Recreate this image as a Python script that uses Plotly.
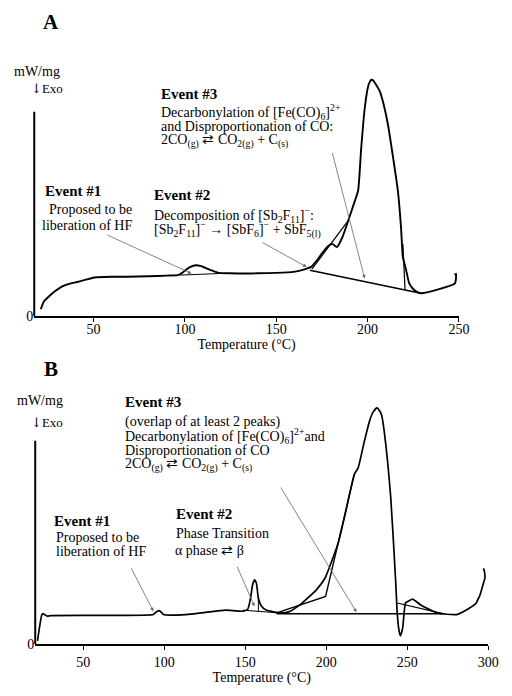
import plotly.graph_objects as go

# ---------------- Panel A data (temperature °C, relative heat flow) ----------------
a_temp = [21.1, 22.8, 25.5, 29.0, 32.6, 37.0, 41.6, 50.5, 60.0, 68.4, 80.0, 90.0, 96.1, 98.5,
          100.5, 103.0, 105.9, 108.5, 111.2, 114.5, 118.4, 125.0, 132.7, 140.0, 150.0, 159.4,
          163.0, 166.6, 169.1, 172.8, 176.0, 178.7, 180.9, 183.2, 186.2, 189.4, 192.7, 194.8,
          196.5, 198.4, 200.2, 201.0, 202.0, 203.1, 204.4, 206.6, 208.7, 211.2, 214.0, 216.6,
          218.3, 219.3, 221.1, 222.8, 225.5, 229.1, 247.8, 248.4, 247.6]
a_signal = [7.3, 15.0, 20.0, 25.5, 30.0, 33.0, 35.0, 39.3, 40.0, 40.0, 40.5, 41.2, 41.7, 44.0,
            47.0, 50.0, 51.7, 51.0, 49.0, 46.5, 44.0, 43.5, 43.3, 43.5, 44.0, 45.0,
            46.3, 48.3, 50.0, 58.0, 66.0, 71.7, 73.0, 70.0, 80.0, 96.7, 115.0, 127.0,
            170.0, 210.0, 232.0, 236.5, 239.3, 238.5, 235.0, 228.0, 215.0, 193.3, 160.0, 126.7,
            90.0, 60.0, 46.7, 33.3, 26.7, 23.3, 33.3, 43.0, 42.0]
a_base_temp = [168.4, 229.1]
a_base_signal = [46.7, 23.3]
a_drop_temp = [219.3, 220.5]
a_drop_signal = [73.3, 27.0]
a_chord_temp = [169.6, 189.4]
a_chord_signal = [48.0, 96.7]
a_bump_temp = [97.3, 118.7]
a_bump_signal = [41.7, 43.3]
a_ticks = [50, 100, 150, 200, 250]

# ---------------- Panel B data ----------------
b_temp = [21.8, 24.5, 25.2, 26.4, 27.8, 30.1, 59.1, 93.3, 94.7, 96.9, 98.3, 99.5, 113.4, 125.5,
          137.6, 148.6, 151.6, 153.3, 154.5, 155.7, 156.9, 158.1, 159.9, 162.9, 170.8, 176.8,
          183.9, 193.9, 199.2, 203.6, 207.6, 211.7, 217.3, 219.7, 223.3, 226.9, 229.0, 231.3,
          233.0, 234.2, 235.8, 239.8, 242.8, 243.8, 244.8, 245.8, 247.2, 248.9, 251.1, 253.3,
          258.3, 268.4, 280.5, 288.5, 292.6, 293.4, 294.6, 295.8, 297.0, 297.9, 297.6, 297.0]
b_signal = [3.4, 30.0, 31.0, 29.7, 28.4, 29.0, 29.2, 30.0, 32.2, 34.0, 32.2, 30.0, 30.0, 32.2,
            34.4, 33.4, 35.7, 46.7, 59.7, 65.0, 61.7, 46.7, 38.7, 34.7, 31.7, 32.7,
            40.0, 55.0, 66.7, 85.0, 103.7, 131.7, 171.7, 178.4, 203.7, 226.7, 235.0, 239.0,
            236.0, 231.7, 215.0, 148.4, 65.0, 31.7, 15.0, 8.4, 16.7, 41.7, 44.0, 45.7,
            39.7, 31.7, 30.0, 36.7, 41.7, 44.7, 48.4, 54.7, 61.7, 66.7, 73.7, 76.7]
b_piece_temp = [169.4, 199.6, 217.3]
b_piece_signal = [31.7, 48.4, 171.7]
b_flat_temp = [169.4, 272.0]
b_flat_signal = [30.8, 30.8]
b_right_temp = [243.8, 272.0]
b_right_signal = [41.7, 31.0]
b_ev2_temp = [148.6, 170.8]
b_ev2_signal = [34.4, 31.7]
b_ev2drop_temp = [158.1, 158.1]
b_ev2drop_signal = [46.7, 33.2]
b_ticks = [50, 100, 150, 200, 250, 300]

FONT = "Liberation Serif"
W, H = 512, 696


def P(px, py):
    return px / W, 1 - py / H


fig = go.Figure()


def line(x, y, xa, ya, width=1.8, smooth=False):
    ln = dict(color="black", width=width)
    if smooth:
        ln.update(shape="spline", smoothing=0.5)
    fig.add_trace(go.Scatter(x=x, y=y, mode="lines", xaxis=xa, yaxis=ya, line=ln,
                             hoverinfo="skip", showlegend=False))


line(a_temp, a_signal, "x", "y", 1.9, smooth=True)
line(a_base_temp, a_base_signal, "x", "y", 1.6)
line(a_drop_temp, a_drop_signal, "x", "y", 1.2)
line(a_chord_temp, a_chord_signal, "x", "y", 1.2)
line(a_bump_temp, a_bump_signal, "x", "y", 1.0)

line(b_temp, b_signal, "x2", "y2", 1.7, smooth=True)
line(b_piece_temp, b_piece_signal, "x2", "y2", 1.4)
line(b_flat_temp, b_flat_signal, "x2", "y2", 1.3)
line(b_right_temp, b_right_signal, "x2", "y2", 1.2)
line(b_ev2_temp, b_ev2_signal, "x2", "y2", 1.0)
line(b_ev2drop_temp, b_ev2drop_signal, "x2", "y2", 1.0)

axis_common = dict(showgrid=False, zeroline=False, showline=True, linewidth=2, linecolor="black",
                   ticks="outside", ticklen=4, tickwidth=1.2, tickcolor="black",
                   tickfont=dict(family=FONT, size=14, color="black"))

fig.update_layout(
    width=W, height=H, margin=dict(l=0, r=0, t=0, b=0),
    paper_bgcolor="white", plot_bgcolor="white",
    xaxis=dict(domain=[35 / W, 469 / W], range=[17.5, 250], tickvals=a_ticks, anchor="y",
               ticklabelstandoff=-5,
               title=dict(text="Temperature (°C)", font=dict(family=FONT, size=14, color="black"),
                          standoff=0), **axis_common),
    yaxis=dict(domain=[(H - 320) / H, (H - 60) / H], range=[0, 260], anchor="x",
               tickvals=[0], ticktext=["0"], showgrid=False, zeroline=False, showline=False,
               ticks="", tickfont=dict(family=FONT, size=14, color="black")),
    xaxis2=dict(domain=[36 / W, 499 / W], range=[20.4, 300], tickvals=b_ticks, anchor="y2",
                title=dict(text="Temperature (°C)", font=dict(family=FONT, size=14, color="black"),
                           standoff=2), **axis_common),
    yaxis2=dict(domain=[(H - 651.7) / H, (H - 400) / H], range=[0, 251.7], anchor="x2",
                tickvals=[0], ticktext=["0"], showgrid=False, zeroline=False, showline=False,
                ticks="", tickfont=dict(family=FONT, size=14, color="black")),
)

# y-axis lines (partial height as in the original)
fig.add_shape(type="line", xref="x domain", yref="y", x0=0, x1=0, y0=0, y1=207,
              line=dict(color="black", width=2))
fig.add_shape(type="line", xref="x2 domain", yref="y2", x0=0, x1=0, y0=0, y1=205.7,
              line=dict(color="black", width=2))


def text(px, py, s, size=14, bold=False, anchor="left"):
    x, y = P(px, py)
    if bold:
        s = "<b>" + s + "</b>"
    fig.add_annotation(x=x, y=y, xref="paper", yref="paper", text=s, showarrow=False,
                       xanchor=anchor, yanchor="middle",
                       font=dict(family=FONT, size=size, color="black"))


def arrow(xh, yh, xt, yt, xa, ya):
    fig.add_annotation(x=xh, y=yh, ax=xt, ay=yt, xref=xa, yref=ya, axref=xa, ayref=ya,
                       text="", showarrow=True, arrowhead=2, arrowsize=0.9, arrowwidth=0.8,
                       arrowcolor="#666666", standoff=0)


EXO = "<span style='font-family:DejaVu Serif'>↓</span>Exo"

# ---- Panel A text ----
text(52, 22, "A", size=21, bold=True, anchor="center")
text(12, 72, "mW/mg", size=14)
text(30, 90, EXO, size=13)
text(162, 95, "Event #3", size=15, bold=True)
text(162, 113, "Decarbonylation of [Fe(CO)<sub>6</sub>]<sup>2+</sup>", size=14)
text(162, 128, "and Disproportionation of CO:", size=14)
text(162, 143, "2CO<sub>(g)</sub> ⇄ CO<sub>2(g)</sub> + C<sub>(s)</sub>", size=14)
text(44, 193, "Event #1", size=15, bold=True)
text(48, 212, "Proposed to be", size=14)
text(41, 228, "liberation of HF", size=14)
text(155, 197, "Event #2", size=15, bold=True)
text(155, 217, "Decomposition of [Sb<sub>2</sub>F<sub>11</sub>]<sup>−</sup>:", size=14)
text(155, 232, "[Sb<sub>2</sub>F<sub>11</sub>]<sup>−</sup> → [SbF<sub>6</sub>]<sup>−</sup> + SbF<sub>5(l)</sub>", size=14)

arrow(103.6, 43.3, 56.6, 83.0, "x", "y")
arrow(166.6, 50.0, 141.6, 75.5, "x", "y")
arrow(198.4, 38.3, 180.5, 166.7, "x", "y")

# ---- Panel B text ----
text(52, 373, "B", size=21, bold=True, anchor="center")
text(15, 405, "mW/mg", size=14)
text(30, 427, EXO, size=13)
text(126, 407, "Event #3", size=15, bold=True)
text(126, 427, "(overlap of at least 2 peaks)", size=14)
text(126, 441, "Decarbonylation of [Fe(CO)<sub>6</sub>]<sup>2+</sup>and", size=14)
text(126, 456, "Disproportionation of CO", size=14)
text(126, 470, "2CO<sub>(g)</sub> ⇄ CO<sub>2(g)</sub> + C<sub>(s)</sub>", size=14)
text(53, 527, "Event #1", size=15, bold=True)
text(55, 544, "Proposed to be", size=14)
text(55, 558, "liberation of HF", size=14)
text(178, 520, "Event #2", size=15, bold=True)
text(178, 540, "Phase Transition", size=14)
text(177, 557, "α phase ⇄ β", size=14)

arrow(93.3, 33.4, 79.2, 78.4, "x2", "y2")
arrow(155.7, 38.4, 144.6, 80.0, "x2", "y2")
arrow(218.7, 32.4, 171.4, 160.0, "x2", "y2")

fig.write_html("out.html", config={"displayModeBar": False},
               post_script="document.body.style.margin='0';document.body.style.overflow='hidden';")
